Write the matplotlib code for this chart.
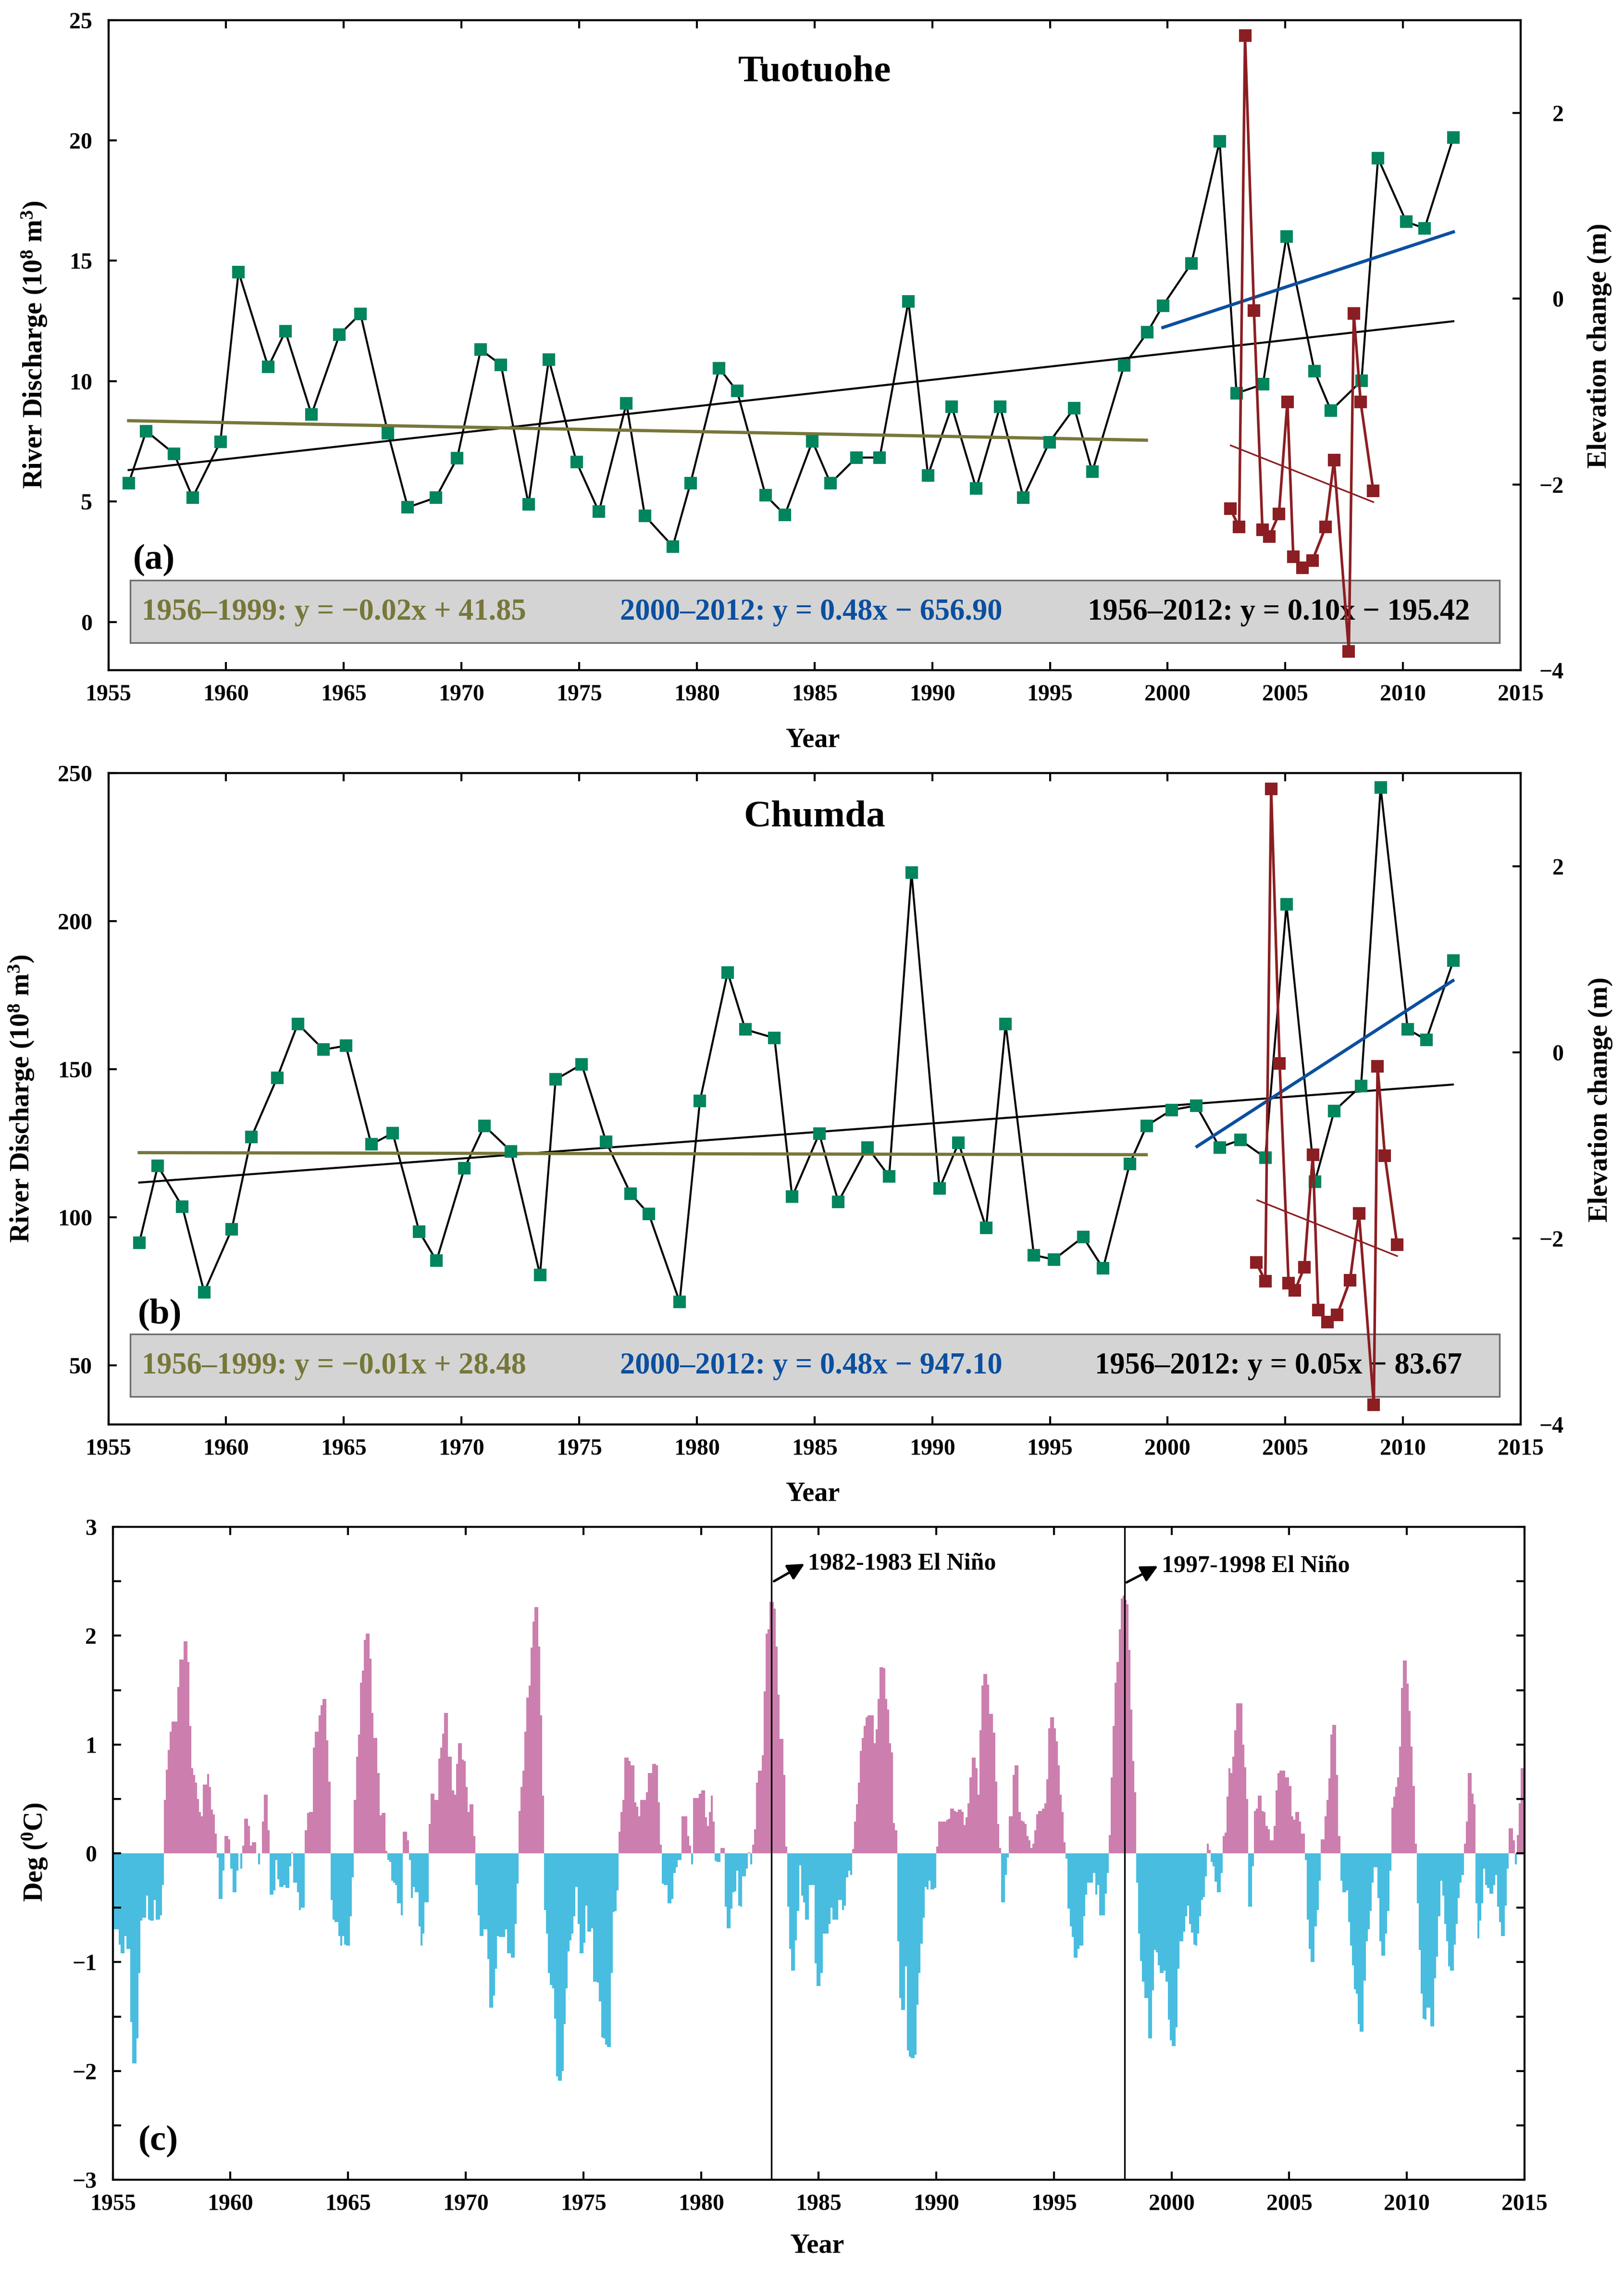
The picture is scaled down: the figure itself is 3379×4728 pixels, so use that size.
import numpy as np
import matplotlib
matplotlib.use("Agg")
import matplotlib.pyplot as plt
from matplotlib.patches import Rectangle

plt.rcParams['font.family'] = ['Liberation Serif', 'DejaVu Serif']
plt.rcParams['font.weight'] = 'bold'
plt.rcParams['mathtext.fontset'] = 'custom'
plt.rcParams['mathtext.rm'] = 'Liberation Serif:bold'
plt.rcParams['mathtext.it'] = 'Liberation Serif:bold'
plt.rcParams['mathtext.bf'] = 'Liberation Serif:bold'

# ---------------------------------------------------------
# (a) Tuotuohe discharge and elevation change
# ---------------------------------------------------------
tt_years = [1955.86, 1956.61, 1957.79, 1958.58, 1959.76, 1960.53, 1961.79, 1962.52, 1963.63, 1964.82,
            1965.71, 1966.88, 1967.72, 1968.92, 1969.82, 1970.82, 1971.68, 1972.85, 1973.71, 1974.89,
            1975.84, 1977.01, 1977.79, 1978.98, 1979.73, 1980.95, 1981.71, 1982.92, 1983.74, 1984.91,
            1985.68, 1986.78, 1987.77, 1988.99, 1989.82, 1990.83, 1991.87, 1992.88, 1993.87, 1994.98,
            1996.04, 1996.80, 1998.15, 1999.14, 1999.80, 2001.01, 2002.21, 2002.93, 2004.05, 2005.05,
            2006.24, 2006.94, 2008.24, 2008.94, 2010.14, 2010.92, 2012.14]
tt_flow = [5.76, 7.93, 6.99, 5.17, 7.49, 14.54, 10.59, 12.07, 8.62, 11.94,
           12.80, 7.84, 4.76, 5.17, 6.81, 11.31, 10.68, 4.89, 10.90, 6.64,
           4.58, 9.08, 4.41, 3.14, 5.76, 10.54, 9.59, 5.26, 4.45, 7.51,
           5.76, 6.83, 6.83, 13.32, 6.09, 8.95, 5.54, 8.95, 5.17, 7.47,
           8.89, 6.24, 10.65, 12.03, 13.14, 14.89, 19.96, 9.50, 9.87, 16.01,
           10.42, 8.78, 10.02, 19.26, 16.62, 16.35, 20.13]
tt_elev_years = [2002.66, 2003.04, 2003.29, 2003.67, 2004.03, 2004.32, 2004.73, 2005.09, 2005.34,
                 2005.74, 2006.15, 2006.71, 2007.07, 2007.70, 2007.91, 2008.20, 2008.74]
tt_elev = [-2.26, -2.46, 2.83, -0.13, -2.49, -2.56, -2.32, -1.11, -2.78,
           -2.90, -2.82, -2.46, -1.74, -3.80, -0.16, -1.11, -2.07]

# fitted lines (end points)
tt_fit_all = ([1955.86, 2012.14], [6.31, 12.49])
tt_fit_early = ([1955.86, 1999.10], [8.36, 7.55])
tt_fit_late = ([1999.80, 2012.14], [12.23, 16.20])
tt_fit_elev = ([2002.68, 2008.74], [-1.58, -2.19])
tt_eqs = ["1956\u20131999: y = \u22120.02x + 41.85",
          "2000\u20132012: y = 0.48x \u2212 656.90",
          "1956\u20132012: y = 0.10x \u2212 195.42"]

# ---------------------------------------------------------
# (b) Chumda discharge and elevation change
# ---------------------------------------------------------
cd_years = [1956.31, 1957.10, 1958.14, 1959.07, 1960.24, 1961.08, 1962.17, 1963.05, 1964.14, 1965.09,
            1966.17, 1967.08, 1968.21, 1968.94, 1970.13, 1970.97, 1972.10, 1973.34, 1974.00, 1975.11,
            1976.15, 1977.19, 1977.96, 1979.27, 1980.13, 1981.31, 1982.06, 1983.30, 1984.05, 1985.20,
            1986.01, 1987.25, 1988.17, 1989.12, 1990.31, 1991.12, 1992.29, 1993.12, 1994.32, 1995.17,
            1996.41, 1997.26, 1998.39, 1999.11, 2000.17, 2001.22, 2002.21, 2003.09, 2004.15, 2005.05,
            2006.26, 2007.08, 2008.22, 2009.05, 2010.20, 2010.99, 2012.14]
cd_flow = [91.3, 117.3, 103.6, 74.7, 95.9, 127.1, 147.1, 165.3, 156.6, 157.9,
           124.6, 128.4, 95.1, 85.3, 116.6, 130.9, 122.3, 80.5, 146.5, 151.6,
           125.4, 107.9, 101.1, 71.4, 139.2, 182.7, 163.4, 160.5, 106.9, 128.2,
           105.2, 123.6, 113.8, 216.4, 109.7, 125.1, 96.4, 165.2, 87.2, 85.7,
           93.3, 82.7, 118.0, 130.9, 136.2, 137.7, 123.6, 126.1, 120.1, 205.6,
           112.0, 135.9, 144.3, 245.2, 163.5, 159.9, 186.6]
cd_elev_years = [2003.77, 2004.15, 2004.40, 2004.76, 2005.14, 2005.41, 2005.81, 2006.17, 2006.40,
                 2006.80, 2007.21, 2007.75, 2008.13, 2008.76, 2008.92, 2009.23, 2009.75]
cd_elev = [-2.26, -2.46, 2.83, -0.12, -2.48, -2.56, -2.31, -1.10, -2.77,
           -2.90, -2.82, -2.45, -1.73, -3.79, -0.15, -1.11, -2.07]

cd_fit_all = ([1956.31, 2012.12], [111.7, 144.8])
cd_fit_early = ([1956.31, 1999.09], [121.8, 121.1])
cd_fit_late = ([2001.25, 2012.12], [123.9, 179.9])
cd_fit_elev = ([2003.81, 2009.75], [-1.59, -2.19])
cd_eqs = ["1956\u20131999: y = \u22120.01x + 28.48",
          "2000\u20132012: y = 0.48x \u2212 947.10",
          "1956\u20132012: y = 0.05x \u2212 83.67"]

# ---------------------------------------------------------
# (c) monthly SST anomaly, one row per year from 1955
# ---------------------------------------------------------
sst_start = 1955
sst_rows = [
    [-0.70, -0.70, -0.70, -0.84, -0.92, -0.92, -0.76, -0.88, -0.88, -1.55, -1.93, -1.93],
    [-1.70, -1.10, -0.62, -0.59, -0.59, -0.39, -0.61, -0.62, -0.62, -0.43, -0.61, -0.61],
    [-0.57, -0.29, 0.49, 0.77, 0.95, 1.12, 1.21, 1.21, 1.21, 1.53, 1.78, 1.78],
    [1.95, 1.95, 1.76, 1.17, 0.78, 0.72, 0.65, 0.50, 0.38, 0.34, 0.63, 0.63],
    [0.73, 0.61, 0.40, 0.36, 0.18, -0.04, -0.42, -0.42, -0.16, 0.16, 0.16, 0.13],
    [-0.14, -0.36, -0.36, -0.16, 0.00, -0.14, 0.07, 0.32, 0.32, 0.25, 0.07, 0.10],
    [0.10, 0.00, -0.10, 0.00, 0.29, 0.54, 0.54, 0.21, -0.38, -0.38, -0.34, -0.06],
    [-0.24, -0.31, -0.31, -0.29, -0.32, -0.32, -0.12, 0.01, -0.27, -0.27, -0.36, -0.52],
    [-0.50, -0.50, 0.21, 0.37, 0.38, 0.38, 0.97, 1.12, 1.12, 1.27, 1.36, 1.42],
    [1.42, 1.04, 0.66, -0.43, -0.61, -0.63, -0.63, -0.76, -0.85, -0.76, -0.84, -0.85],
    [-0.85, -0.58, -0.22, 0.49, 0.89, 1.09, 1.57, 1.68, 1.96, 2.02, 2.02, 1.79],
    [1.29, 1.06, 1.06, 0.74, 0.35, 0.37, 0.37, 0.02, -0.06, -0.08, -0.25, -0.27],
    [-0.29, -0.46, -0.46, -0.57, 0.20, 0.20, 0.12, -0.06, -0.41, -0.31, -0.36, -0.36],
    [-0.67, -0.85, -0.74, -0.45, -0.45, 0.27, 0.55, 0.55, 0.49, 0.49, 0.87, 0.97],
    [1.10, 1.29, 1.29, 0.89, 0.89, 0.58, 0.54, 0.82, 1.01, 1.01, 0.86, 0.85],
    [0.61, 0.38, 0.45, 0.45, 0.16, -0.29, -0.57, -0.76, -0.76, -0.70, -0.70, -0.97],
    [-1.42, -1.42, -1.31, -1.06, -0.76, -0.77, -0.77, -0.77, -0.70, -0.92, -0.92, -0.96],
    [-0.96, -0.65, -0.28, 0.39, 0.61, 0.76, 1.12, 1.43, 1.54, 1.89, 2.13, 2.26],
    [2.26, 1.90, 1.27, 0.53, -0.52, -0.74, -1.10, -1.21, -1.24, -1.52, -2.05, -2.09],
    [-2.09, -2.00, -1.57, -1.24, -0.90, -0.80, -0.74, -0.58, -0.31, -0.65, -0.92, -0.92],
    [-0.82, -0.48, -0.72, -0.72, -0.69, -1.18, -1.18, -1.19, -1.36, -1.69, -1.70, -1.76],
    [-1.78, -1.78, -1.10, -0.54, -0.53, -0.34, 0.20, 0.38, 0.49, 0.88, 0.88, 0.85],
    [0.81, 0.81, 0.47, 0.43, 0.34, 0.49, 0.49, 0.49, 0.56, 0.74, 0.74, 0.82],
    [0.82, 0.81, 0.47, 0.08, -0.28, -0.29, -0.29, -0.46, -0.46, -0.42, -0.18, -0.13],
    [-0.06, -0.06, 0.34, 0.34, 0.34, 0.16, 0.07, -0.10, 0.51, 0.51, 0.51, 0.55],
    [0.58, 0.58, 0.33, 0.25, 0.38, 0.53, 0.29, -0.07, -0.08, -0.08, 0.05, 0.05],
    [-0.49, -0.69, -0.69, -0.51, -0.36, -0.35, -0.16, -0.48, -0.49, -0.21, -0.21, -0.14],
    [0.01, -0.10, 0.08, 0.22, 0.65, 0.76, 0.76, 0.90, 1.49, 2.02, 2.06, 2.31],
    [2.31, 2.25, 1.90, 1.46, 1.05, 1.05, 0.72, 0.06, -0.49, -0.88, -1.08, -1.08],
    [-0.80, -0.53, -0.11, -0.39, -0.45, -0.61, -0.61, -0.29, -0.29, -0.29, -1.01, -1.22],
    [-1.22, -1.10, -0.74, -0.74, -0.74, -0.65, -0.50, -0.61, -0.61, -0.61, -0.43, -0.43],
    [-0.52, -0.48, -0.22, -0.16, -0.20, 0.04, 0.29, 0.45, 0.65, 0.94, 1.06, 1.17],
    [1.25, 1.27, 1.27, 1.27, 1.01, 1.14, 1.42, 1.71, 1.71, 1.70, 1.42, 1.32],
    [1.01, 0.93, 0.28, 0.21, -0.81, -1.33, -1.44, -1.44, -1.04, -1.81, -1.87, -1.88],
    [-1.88, -1.85, -1.39, -1.10, -0.83, -0.59, -0.31, -0.33, -0.25, -0.33, -0.33, -0.32],
    [0.06, 0.29, 0.29, 0.29, 0.29, 0.31, 0.32, 0.41, 0.41, 0.39, 0.38, 0.40],
    [0.40, 0.38, 0.26, 0.33, 0.46, 0.70, 0.88, 0.88, 0.78, 0.54, 1.13, 1.54],
    [1.65, 1.65, 1.55, 1.28, 1.28, 1.11, 0.66, 0.27, 0.05, -0.45, -0.45, -0.20],
    [-0.04, 0.34, 0.34, 0.72, 0.81, 0.81, 0.38, 0.30, 0.29, 0.27, 0.16, 0.12],
    [0.05, 0.09, 0.21, 0.36, 0.39, 0.39, 0.41, 0.46, 0.68, 1.15, 1.25, 1.25],
    [1.15, 1.03, 0.81, 0.54, 0.38, 0.10, -0.05, -0.51, -0.67, -0.77, -0.96, -0.96],
    [-0.88, -0.85, -0.85, -0.58, -0.38, -0.27, -0.27, -0.27, -0.18, -0.38, -0.29, -0.57],
    [-0.57, -0.57, -0.37, -0.18, 0.17, 0.70, 1.17, 1.57, 1.76, 2.06, 2.34, 2.37],
    [2.33, 2.29, 1.87, 1.32, 0.85, 0.56, -0.27, -0.74, -0.99, -1.18, -1.33, -1.33],
    [-1.70, -1.70, -1.26, -0.89, -0.91, -1.03, -1.10, -1.10, -1.08, -1.18, -1.53, -1.72],
    [-1.77, -1.77, -1.60, -1.06, -0.81, -0.81, -0.72, -0.58, -0.48, -0.65, -0.73, -0.84],
    [-0.85, -0.74, -0.58, -0.43, -0.40, -0.21, 0.09, 0.03, -0.08, -0.12, -0.26, -0.36],
    [-0.36, -0.18, 0.16, 0.19, 0.52, 0.78, 0.74, 0.89, 1.13, 1.38, 1.38, 1.38],
    [1.00, 0.79, 0.50, -0.49, -0.49, -0.12, 0.39, 0.41, 0.53, 0.53, 0.39, 0.38],
    [0.25, 0.22, 0.12, 0.12, 0.25, 0.58, 0.74, 0.76, 0.76, 0.76, 0.70, 0.70],
    [0.62, 0.34, 0.31, 0.38, 0.38, 0.29, 0.18, 0.18, -0.06, -0.61, -0.88, -1.00],
    [-1.00, -0.67, -0.52, -0.25, 0.13, 0.13, 0.34, 0.49, 0.69, 1.09, 1.18, 1.18],
    [0.72, 0.16, -0.25, -0.36, -0.36, -0.34, -0.63, -0.85, -1.03, -1.25, -1.29, -1.57],
    [-1.64, -1.64, -1.17, -0.81, -0.70, -0.53, -0.27, -0.13, -0.13, -0.41, -0.81, -0.94],
    [-0.94, -0.74, -0.53, -0.16, 0.42, 0.52, 0.61, 0.70, 0.98, 1.52, 1.77, 1.77],
    [1.56, 1.31, 0.98, 0.62, 0.09, -0.46, -0.89, -1.29, -1.52, -1.53, -1.42, -1.42],
    [-1.59, -1.59, -1.15, -0.95, -0.58, -0.25, -0.39, -0.65, -0.81, -1.04, -1.08, -1.08],
    [-0.84, -0.65, -0.41, -0.27, -0.20, 0.09, 0.29, 0.74, 0.74, 0.55, 0.45, -0.46],
    [-0.78, -0.62, -0.46, -0.14, -0.29, -0.32, -0.37, -0.37, -0.29, -0.20, -0.49, -0.63],
    [-0.76, -0.76, -0.48, -0.14, 0.23, 0.23, 0.12, -0.10, 0.17, 0.46, 0.78, 0.78],
]
el_nino_events = [1983.0, 1998.0]
el_nino_labels = ["1982-1983 El Ni\u00f1o", "1997-1998 El Ni\u00f1o"]

# ---------------------------------------------------------
# styling
# ---------------------------------------------------------
GREEN = "#00855f"
RED = "#8b1e22"
OLIVE = "#77773a"
BLUE = "#0b4f9f"
PINK = "#cc7fae"
CYAN = "#49bde0"
TICK_FS = 11.5
LABEL_FS = 13.5
EQ_FS = 15

W, H = 3379, 4728
fig = plt.figure(figsize=(W / 300, H / 300), dpi=300)


def frame(ax):
    for s in ax.spines.values():
        s.set_linewidth(1.0)
    ax.tick_params(direction="in", length=4, width=1.0, labelsize=TICK_FS,
                   top=True, bottom=True)
    ax.tick_params(axis="x", pad=7)
    ax.tick_params(axis="y", pad=8)


def discharge_panel(rect, years, flow, ey, ev, fit_all, fit_early, fit_late, fit_elev,
                    ylim, yticks, eqs, eq_x, eq_y, box, title, title_y, letter, letter_x):
    ax = fig.add_axes(rect)
    ax.set_xlim(1955, 2015)
    ax.set_ylim(*ylim)
    ax.set_xticks(np.arange(1955, 2016, 5))
    ax.set_yticks(yticks)
    frame(ax)
    ax.tick_params(axis="y", right=False)

    ax.add_patch(Rectangle((box[0], box[1]), box[2] - box[0], box[3] - box[1],
                           facecolor="#d4d4d4", edgecolor="#6b6b6b", lw=0.8, zorder=1))
    ax.plot(years, flow, color="k", lw=1.0, zorder=3)
    ax.plot(years, flow, "s", color=GREEN, ms=5.5, mec=GREEN, zorder=4)
    ax.plot(*fit_all, color="k", lw=1.0, zorder=3)
    ax.plot(*fit_early, color=OLIVE, lw=1.6, zorder=3)
    ax.plot(*fit_late, color=BLUE, lw=1.6, zorder=3)

    for txt, x, c in zip(eqs, eq_x, [OLIVE, BLUE, "k"]):
        ax.text(x, eq_y, txt, color=c, fontsize=EQ_FS, va="center", ha="left", zorder=5)
    ax.text(0.5, title_y, title, transform=ax.transAxes, fontsize=19, ha="center", va="center")
    ax.text(letter_x, 0.169, letter, transform=ax.transAxes, fontsize=18, ha="left", va="center")

    ax2 = ax.twinx()
    ax2.set_ylim(-4, 3)
    ax2.set_yticks([-4, -2, 0, 2])
    for s in ax2.spines.values():
        s.set_linewidth(1.0)
    ax2.tick_params(direction="in", length=4, width=1.0, labelsize=TICK_FS, pad=21.5)
    for t in ax2.get_yticklabels():
        t.set_horizontalalignment("right")
    ax2.plot(ey, ev, "-s", color=RED, lw=1.3, ms=5.5, zorder=4)
    ax2.plot(*fit_elev, color=RED, lw=0.8, zorder=3)
    return ax


def fx(px):
    return px / W


def fy(py):
    return 1 - py / H


# (a)
discharge_panel([fx(225.5), fy(1394), fx(3164 - 225.5), (1394 - 41.6) / H],
                tt_years, tt_flow, tt_elev_years, tt_elev,
                tt_fit_all, tt_fit_early, tt_fit_late, tt_fit_elev,
                (-2, 25), [0, 5, 10, 15, 20, 25], tt_eqs, [1956.42, 1976.74, 1996.6], 0.40,
                (1955.93, -0.86, 2014.1, 1.73), "Tuotuohe", 0.92, "(a)", 0.0175)
fig.text(fx(72), fy(717), r"River Discharge (10$^{8}$ m$^{3}$)", rotation=90,
         fontsize=LABEL_FS, ha="center", va="center")
fig.text(fx(3328), fy(719), "Elevation change (m)", rotation=90,
         fontsize=LABEL_FS, ha="center", va="center")
fig.text(fx(1691), fy(1540), "Year", fontsize=LABEL_FS, ha="center", va="center")

# (b)
discharge_panel([fx(225.5), fy(2963), fx(3164 - 225.5), (2963 - 1608) / H],
                cd_years, cd_flow, cd_elev_years, cd_elev,
                cd_fit_all, cd_fit_early, cd_fit_late, cd_fit_elev,
                (30, 250), [50, 100, 150, 200, 250], cd_eqs, [1956.42, 1976.74, 1996.9], 49.6,
                (1955.93, 39.4, 2014.1, 60.6), "Chumda", 0.932, "(b)", 0.021)
fig.text(fx(45), fy(2285), r"River Discharge (10$^{8}$ m$^{3}$)", rotation=90,
         fontsize=LABEL_FS, ha="center", va="center")
fig.text(fx(3330), fy(2287), "Elevation change (m)", rotation=90,
         fontsize=LABEL_FS, ha="center", va="center")
fig.text(fx(1691), fy(3107), "Year", fontsize=LABEL_FS, ha="center", va="center")

# (c)
axc = fig.add_axes([fx(234.7), fy(4534), fx(3172 - 234.7), (4534 - 3176) / H])
sst = np.array(sst_rows).ravel()
t0 = sst_start + np.arange(sst.size) / 12.0
axc.bar(t0, sst, width=1 / 12.0, align="edge", linewidth=0,
        color=np.where(sst >= 0, PINK, CYAN))
axc.set_xlim(1955, 2015)
axc.set_ylim(-3, 3)
axc.set_xticks(np.arange(1955, 2016, 5))
axc.set_yticks(np.arange(-3, 4, 1))
axc.set_yticks(np.arange(-3, 3.01, 0.5), minor=True)
frame(axc)
axc.tick_params(axis="y", which="both", right=True, direction="in", length=4, width=1.0)
axc.tick_params(axis="x", which="minor", bottom=False, top=False)

arrow_tail = [(1983.10, 2.50), (1998.09, 2.49)]
arrow_head = [(1984.40, 2.66), (1999.42, 2.64)]
for xv, lab, tail, head in zip(el_nino_events, el_nino_labels, arrow_tail, arrow_head):
    axc.axvline(xv, color="k", lw=0.8, zorder=3)
    axc.annotate("", xy=head, xytext=tail,
                 arrowprops=dict(arrowstyle="-|>,head_length=0.5,head_width=0.25",
                                 color="k", lw=1.2, mutation_scale=14,
                                 shrinkA=0, shrinkB=0))
    axc.text(head[0] + 0.15, head[1], lab, fontsize=12, ha="left", va="center")
axc.text(0.018, 0.059, "(c)", transform=axc.transAxes, fontsize=18, ha="left", va="center")
fig.text(fx(73), fy(3853), r"Deg ($^{0}$C)", rotation=90, fontsize=LABEL_FS,
         ha="center", va="center")
fig.text(fx(1700), fy(4672), "Year", fontsize=LABEL_FS, ha="center", va="center")

fig.savefig("out.png", dpi=300)
